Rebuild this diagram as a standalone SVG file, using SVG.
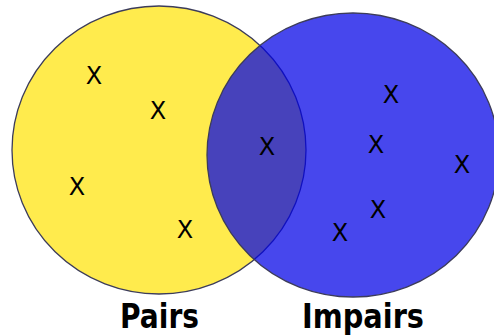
<svg xmlns="http://www.w3.org/2000/svg" width="494" height="335" viewBox="0 0 494 335">
<style>
.x{font-family:"DejaVu Sans",sans-serif;font-size:24px;fill:#000;text-anchor:middle}
.lbl{font-family:"DejaVu Sans",sans-serif;font-size:34px;font-weight:bold;fill:#000;text-anchor:middle}
</style>
<rect width="494" height="335" fill="#fff"/>
<g id="pairs">
<ellipse cx="159" cy="150" rx="147" ry="144" fill="#ffeb4d" stroke="#3c3c5a" stroke-width="1.3"/>
</g>
<g id="impairs">
<ellipse cx="353" cy="155" rx="146" ry="142" fill="#0000e6" fill-opacity="0.72" stroke="#3c3c5a" stroke-width="1.3"/>
</g>
<g id="elements">
<text class="x" x="94" y="84">X</text>
<text class="x" x="158" y="119">X</text>
<text class="x" x="77" y="195">X</text>
<text class="x" x="185" y="238">X</text>
<text class="x" x="267" y="155">X</text>
<text class="x" x="391" y="103">X</text>
<text class="x" x="376" y="153">X</text>
<text class="x" x="462" y="173">X</text>
<text class="x" x="378" y="218">X</text>
<text class="x" x="340" y="241">X</text>
</g>
<g id="labels">
<text class="lbl" x="159.5" y="328" textLength="79" lengthAdjust="spacingAndGlyphs">Pairs</text>
<text class="lbl" x="363" y="328" textLength="122" lengthAdjust="spacingAndGlyphs">Impairs</text>
</g>
</svg>
